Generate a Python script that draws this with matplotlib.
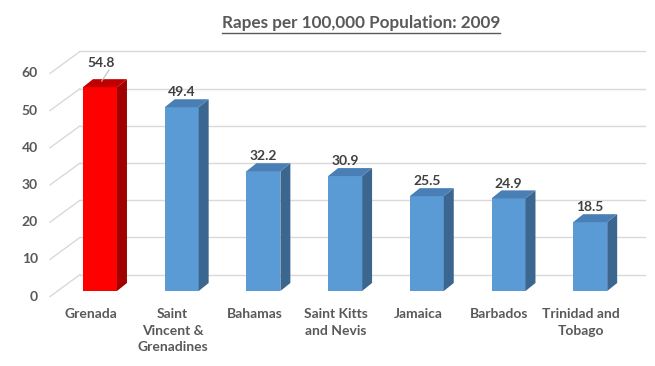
import matplotlib
matplotlib.use('Agg')
import matplotlib.pyplot as plt
from matplotlib.patches import Polygon
from matplotlib.lines import Line2D

plt.rcParams['font.family'] = ['Lato', 'DejaVu Sans']

countries = ['Grenada', 'Saint\nVincent &\nGrenadines', 'Bahamas', 'Saint Kitts\nand Nevis',
             'Jamaica', 'Barbados', 'Trinidad and\nTobago']
rates = [54.8, 49.4, 32.2, 30.9, 25.5, 24.9, 18.5]
yticks = [0, 10, 20, 30, 40, 50, 60]

TXT = '#595959'
GRID = '#d9d9d9'

fig = plt.figure(figsize=(6.55, 3.66), dpi=100)
ax = fig.add_axes([0, 0, 1, 1])
ax.set_xlim(-1.224, 6.793)
ax.set_ylim(-20.16, 78.23)
ax.axis('off')

w = 0.416      # bar front width
dx, dy = 0.122, 2.15   # depth of the bars
wx0, wx1, wy = -0.245, 6.67, 4.4  # back wall
fx = -0.612

# back wall gridlines + left side diagonals
for t in yticks:
    ax.plot([wx0, wx1], [t + wy, t + wy], color=GRID, lw=1, zorder=1)
    ax.plot([fx, wx0], [t - 1.5, t + wy], color=GRID, lw=1, zorder=1)
    ax.text(-0.76, t - 1.5, str(t), ha='right', va='center', fontsize=10,
            fontweight='bold', color=TXT)

for i, (name, v) in enumerate(zip(countries, rates)):
    if i == 0:
        front, top, side = '#ff0000', '#c00000', '#a00000'
    else:
        front, top, side = '#5b9bd5', '#4a7fb5', '#3b6690'
    ax.bar(i, v, width=w, color=front, zorder=3)
    r = i + w / 2
    l = i - w / 2
    ax.add_patch(Polygon([(r, 0), (r + dx, dy), (r + dx, v + dy), (r, v)],
                         closed=True, facecolor=side, edgecolor='none', zorder=3))
    ax.add_patch(Polygon([(l, v), (r, v), (r + dx, v + dy), (l + dx, v + dy)],
                         closed=True, facecolor=top, edgecolor='none', zorder=3))
    if i == 0:
        ax.text(i + 0.02, v + 6.5, f'{v}', ha='center', va='center', fontsize=10,
                fontweight='bold', color='#404040', zorder=5)
        ax.plot([i + 0.11, i + 0.02], [v + 4.6, v + 1.6], color='#bfbfbf', lw=0.8, zorder=5)
    else:
        ax.text(i, v + 4.0, f'{v}', ha='center', va='center', fontsize=10,
                fontweight='bold', color='#404040', zorder=5)
    ax.text(i - 0.11, -4.7, name, ha='center', va='top', fontsize=10,
            fontweight='bold', color=TXT, linespacing=1.42)

title = fig.text(0.551, 0.937, 'Rapes per 100,000 Population: 2009', ha='center',
                 va='center', fontsize=12.3, fontweight='bold', color=TXT)
fig.canvas.draw()
bb = title.get_window_extent().transformed(fig.transFigure.inverted())
fig.add_artist(Line2D([bb.x0, bb.x1], [bb.y0 - 0.004, bb.y0 - 0.004],
                      color=TXT, lw=1, transform=fig.transFigure))

fig.savefig('out.png', dpi=100)
